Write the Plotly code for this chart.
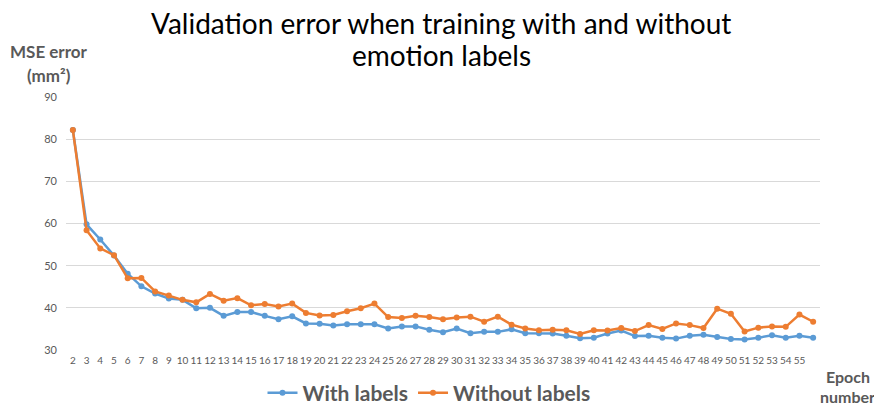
import plotly.graph_objects as go

epochs = list(range(2, 57))
with_labels = [82.2, 59.8, 56.2, 52.4, 48.1, 45.1, 43.4, 42.2, 41.9, 39.9,
               40.0, 38.1, 39.0, 39.0, 38.1, 37.3, 38.0, 36.3, 36.2, 35.8,
               36.1, 36.1, 36.1, 35.1, 35.6, 35.6, 34.8, 34.2, 35.1, 34.0,
               34.3, 34.3, 34.9, 34.0, 34.0, 33.9, 33.4, 32.8, 32.9, 33.9,
               34.6, 33.3, 33.4, 32.9, 32.7, 33.4, 33.6, 33.1, 32.6, 32.5,
               32.9, 33.5, 32.9, 33.4, 32.9]
without_labels = [82.2, 58.4, 54.1, 52.5, 47.0, 47.1, 43.9, 42.9, 41.9, 41.3,
                  43.3, 41.7, 42.3, 40.6, 40.9, 40.3, 41.0, 38.8, 38.2, 38.3,
                  39.2, 39.9, 41.0, 37.8, 37.6, 38.1, 37.8, 37.3, 37.7, 37.9,
                  36.7, 37.9, 36.0, 35.1, 34.7, 34.8, 34.7, 33.8, 34.7, 34.6,
                  35.2, 34.5, 35.9, 35.0, 36.3, 35.9, 35.2, 39.8, 38.6, 34.4,
                  35.3, 35.6, 35.5, 38.4, 36.7]
tick_vals = list(range(2, 56))
tick_text = [str(v) for v in tick_vals]
y_ticks = [30, 40, 50, 60, 70, 80, 90]

BLUE = "#5B9BD5"
ORANGE = "#ED7D31"
GRAY = "#595959"
FONT = "Lato"

# page body has an 8px margin: work in viewport pixels and shift
OFF = 8
W, H = 882 - OFF, 406 - OFF
l, r, t, b = 66 - OFF, 882 - 820, 97 - OFF, 406 - 350
pw, ph = W - l - r, H - t - b
def px(xp):
    return (xp - OFF - l) / pw
def py(yp):
    return (H - b - (yp - OFF)) / ph

fig = go.Figure()
fig.add_trace(go.Scatter(x=epochs, y=with_labels, name="With labels",
                         mode="lines+markers",
                         line=dict(color=BLUE, width=2.5),
                         marker=dict(color=BLUE, size=6)))
fig.add_trace(go.Scatter(x=epochs, y=without_labels, name="Without labels",
                         mode="lines+markers",
                         line=dict(color=ORANGE, width=2.5),
                         marker=dict(color=ORANGE, size=6)))

def note(text, x, y, size, color, bold=False):
    return dict(text=text, x=px(x), y=py(y), xref="paper", yref="paper",
                showarrow=False,
                font=dict(family=FONT, size=size, color=color,
                          weight="bold" if bold else "normal"),
                xanchor="center", yanchor="middle")

fig.update_layout(
    width=W, height=H,
    margin=dict(l=l, r=r, t=t, b=b, autoexpand=False),
    paper_bgcolor="white", plot_bgcolor="white",
    font=dict(family=FONT, color=GRAY),
    showlegend=True,
    legend=dict(orientation="h", x=px(429), xanchor="center", y=py(393), yanchor="middle",
                font=dict(family=FONT, size=21, color=GRAY, weight="bold"),
                itemwidth=30, tracegroupgap=0, bgcolor="rgba(0,0,0,0)"),
    xaxis=dict(range=[1.5, 56.5], tickmode="array", tickvals=tick_vals, ticktext=tick_text,
               tickangle=0, tickfont=dict(size=10, color=GRAY), showgrid=False,
               zeroline=False, showline=False, ticks="", automargin=False,
               ticklabelstandoff=3),
    yaxis=dict(range=[30, 90], tickmode="array", tickvals=y_ticks,
               tickfont=dict(size=11, color=GRAY), showgrid=True, gridcolor="#D9D9D9",
               gridwidth=1, zeroline=False, showline=False, ticks="",
               ticklabelstandoff=8, automargin=False),
    annotations=[
        note("Validation error when training with and without", 441, 23, 28, "black"),
        note("emotion labels", 441, 55, 28, "black"),
        note("MSE error", 49, 52, 17, GRAY, True),
        note("(mm²)", 49, 75, 17, GRAY, True),
        note("Epoch", 848, 376, 16, GRAY, True),
        note("number", 847, 396, 16, GRAY, True),
    ],
)

fig.write_html("out.html")
